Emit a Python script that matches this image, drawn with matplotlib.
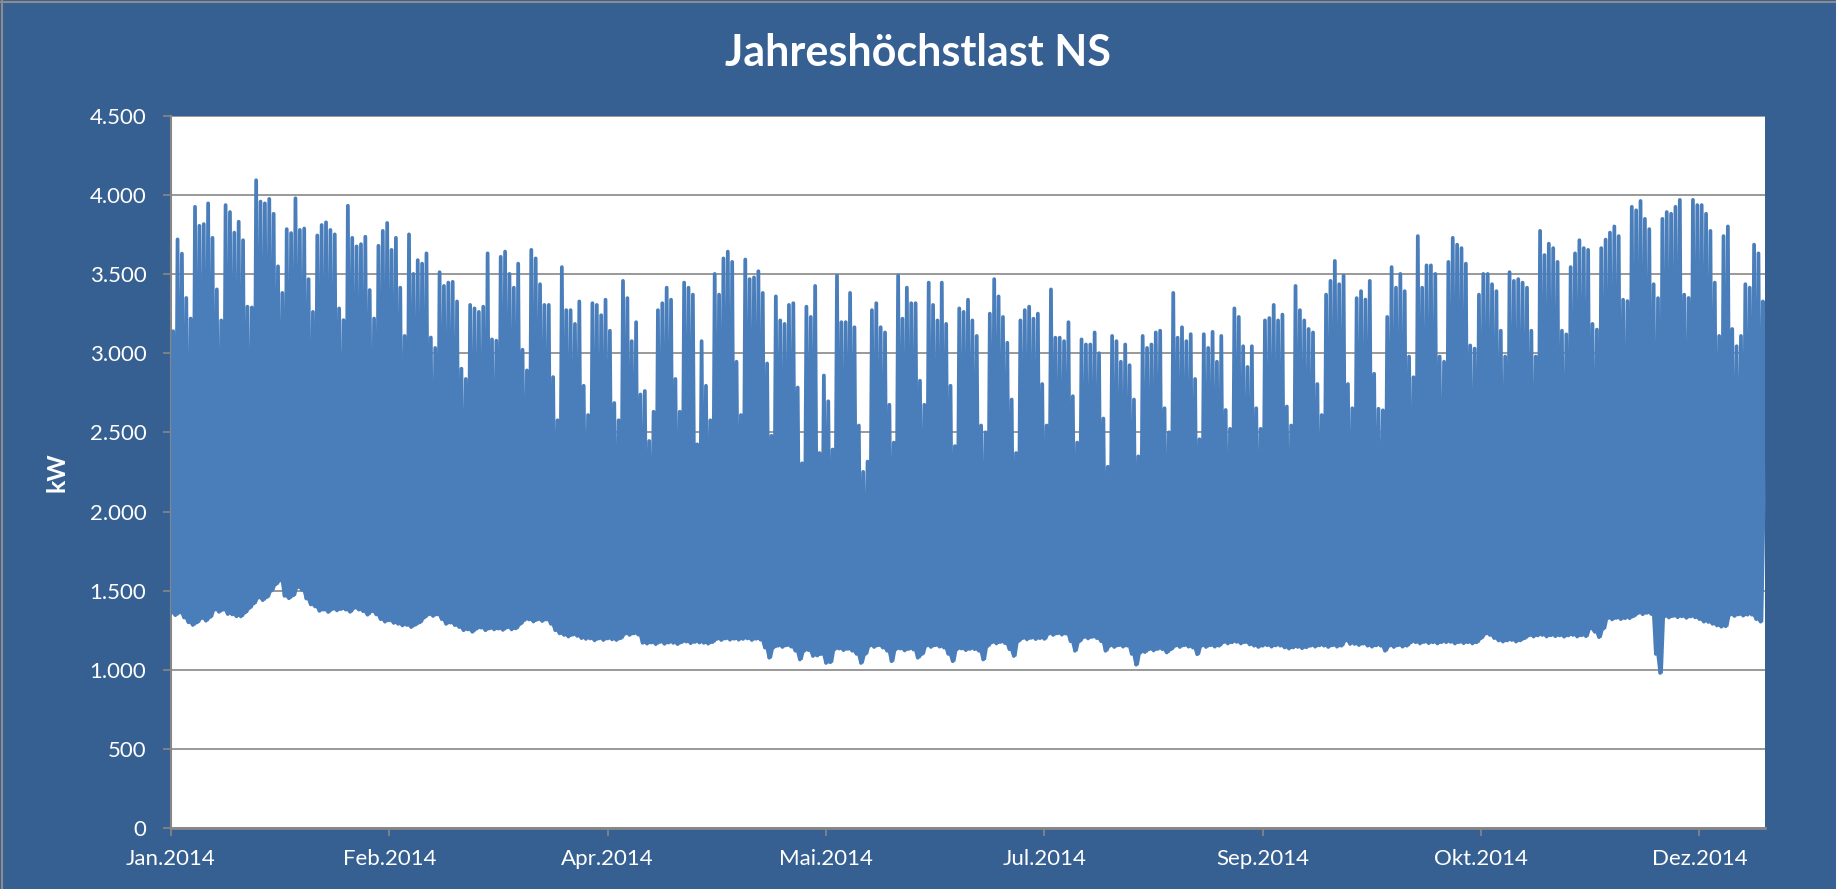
import numpy as np
import matplotlib
matplotlib.use("Agg")
import matplotlib.pyplot as plt
from matplotlib.lines import Line2D
from matplotlib.ticker import FuncFormatter, MultipleLocator

# ---------------- data (daily peak / night minimum in kW) -------------
# year 2014, day 0 = 1 Jan (Wednesday)
daily_max = [
    3140, 3720, 3630, 3350, 3220,
    3926, 3806, 3817, 3948, 3730, 3404, 3208,
    3937, 3893, 3763, 3832, 3715, 3295, 3290,
    4094, 3959, 3948, 3976, 3882, 3550, 3382,
    3785, 3760, 3980, 3780, 3789, 3469, 3262,
    3745, 3811, 3828, 3780, 3752, 3284, 3210,
    3933, 3730, 3676, 3690, 3737, 3400, 3220,
    3680, 3774, 3824, 3654, 3730, 3415, 3110,
    3752, 3502, 3589, 3567, 3632, 3100, 3034,
    3513, 3426, 3447, 3452, 3328, 2903, 2838,
    3306, 3284, 3262, 3295, 3632, 3088, 3080,
    3610, 3643, 3502, 3415, 3567, 3023, 2892,
    3654, 3600, 3437, 3306, 3306, 2850, 2577,
    3545, 3273, 3273, 3186, 3328, 2795, 2610,
    3317, 3306, 3241, 3339, 3143, 2686, 2577,
    3458, 3349, 3077, 3197, 2740, 2762, 2446,
    2631, 3273, 3317, 3415, 3339, 2838, 2631,
    3447, 3415, 3371, 2425, 3077, 2795, 2577,
    3502, 3371, 3600, 3643, 3578, 2947, 2610,
    3593, 3469, 3480, 3519, 3382, 2936, 2479,
    3360, 3208, 3186, 3306, 3317, 2784, 2305,
    3295, 3230, 3426, 2370, 2860, 2697, 2392,
    3491, 3197, 3197, 3382, 3165, 2544, 2251,
    2316, 3273, 3317, 3165, 3132, 2675, 2436,
    3491, 3219, 3415, 3317, 3317, 2827, 2675,
    3447, 3306, 3208, 3447, 3186, 2795, 2414,
    3284, 3262, 3339, 3208, 3110, 2544, 2501,
    3251, 3469, 3360, 3230, 3067, 2708, 2370,
    3208, 3273, 3295, 3219, 3251, 2806, 2544,
    3404, 3099, 3099, 3077, 3197, 2729, 2436,
    3088, 3056, 3056, 3132, 3001, 2588, 2283,
    3110, 3077, 2947, 3056, 2925, 2708, 2349,
    3110, 3034, 3056, 3132, 3143, 2653, 2501,
    3382, 3099, 3165, 3077, 3121, 2838, 2457,
    3121, 3034, 3136, 2947, 3110, 2642, 2523,
    3284, 3230, 3045, 2914, 3045, 2653, 2523,
    3208, 3223, 3306, 3208, 3245, 2664, 2544,
    3426, 3273, 3208, 3154, 3132, 2806, 2610,
    3371, 3458, 3584, 3437, 3491, 2806, 2653,
    3349, 3393, 3340, 3458, 2871, 2650, 2640,
    3230, 3545, 3415, 3502, 3393, 2980, 2849,
    3741, 3415, 3556, 3556, 3502, 2980, 2947,
    3578, 3730, 3687, 3665, 3567, 3050, 3030,
    3371, 3502, 3502, 3437, 3393, 3143, 2980,
    3513, 3458, 3469, 3447, 3415, 3143, 2980,
    3774, 3621, 3693, 3665, 3578, 3143, 3120,
    3545, 3632, 3715, 3665, 3654, 3186, 3150,
    3665, 3719, 3763, 3802, 3741, 3339, 3330,
    3926, 3904, 3963, 3850, 3785, 3437, 3349,
    3850, 3893, 3882, 3926, 3970, 3371, 3350,
    3970, 3937, 3937, 3882, 3774, 3447, 3110,
    3741, 3802, 3154, 3045, 3110, 3437, 3415,
    3687, 3632, 3328,
]

daily_min = [
    1360, 1345, 1362, 1330, 1300,
    1283, 1300, 1326, 1310, 1334, 1380, 1366,
    1380, 1352, 1350, 1338, 1337, 1362, 1391,
    1420, 1456, 1440, 1460, 1500, 1540, 1565,
    1467, 1452, 1470, 1522, 1505, 1450, 1413,
    1400, 1372, 1380, 1365, 1384, 1375, 1384,
    1380, 1366, 1391, 1380, 1370, 1348, 1370,
    1350, 1320, 1304, 1312, 1296, 1290, 1280,
    1283, 1270, 1285, 1300, 1330, 1350, 1340,
    1350, 1320, 1290, 1298, 1282, 1270, 1250,
    1255, 1240, 1260, 1266, 1250, 1262, 1255,
    1260, 1252, 1268, 1255, 1262, 1290, 1315,
    1318, 1305, 1318, 1308, 1318, 1290, 1250,
    1230, 1220, 1210, 1222, 1214, 1200, 1195,
    1198, 1186, 1198, 1188, 1198, 1192, 1188,
    1200, 1228, 1220, 1230, 1222, 1170, 1165,
    1172, 1162, 1176, 1164, 1172, 1170, 1162,
    1175, 1178, 1168, 1176, 1172, 1170, 1165,
    1175, 1195, 1188, 1198, 1190, 1196, 1190,
    1195, 1198, 1188, 1196, 1190, 1140, 1076,
    1141, 1152, 1144, 1155, 1146, 1120, 1065,
    1120, 1124, 1087, 1090, 1100, 1043, 1048,
    1130, 1134, 1124, 1132, 1120, 1100, 1043,
    1100, 1152, 1144, 1155, 1140, 1120, 1054,
    1130, 1134, 1122, 1132, 1128, 1076, 1100,
    1152, 1144, 1155, 1146, 1140, 1100, 1054,
    1130, 1134, 1124, 1132, 1130, 1120, 1065,
    1150, 1174, 1166, 1176, 1168, 1130, 1087,
    1180, 1200, 1192, 1202, 1194, 1200, 1195,
    1228, 1220, 1230, 1222, 1228, 1180, 1120,
    1180, 1206, 1198, 1208, 1200, 1180, 1120,
    1152, 1144, 1155, 1146, 1152, 1100, 1032,
    1109, 1112, 1130, 1122, 1132, 1130, 1109,
    1130, 1152, 1144, 1155, 1146, 1140, 1098,
    1152, 1144, 1155, 1146, 1152, 1174, 1166,
    1174, 1176, 1166, 1175, 1160, 1152, 1144,
    1152, 1155, 1146, 1154, 1152, 1141, 1134,
    1141, 1144, 1136, 1142, 1152, 1146, 1154,
    1152, 1144, 1155, 1146, 1152, 1185, 1163,
    1163, 1156, 1165, 1152, 1146, 1154, 1152,
    1120, 1152, 1144, 1155, 1146, 1152, 1174,
    1174, 1166, 1176, 1168, 1174, 1166, 1175,
    1174, 1176, 1166, 1175, 1168, 1174, 1166,
    1174, 1200, 1228, 1220, 1200, 1185, 1178,
    1185, 1188, 1178, 1186, 1200, 1217, 1210,
    1217, 1220, 1210, 1218, 1212, 1217, 1209,
    1217, 1220, 1210, 1218, 1212, 1261, 1240,
    1206, 1260, 1326, 1318, 1328, 1320, 1326,
    1326, 1340, 1359, 1351, 1360, 1352, 1100,
    980, 1337, 1330, 1340, 1332, 1338, 1328,
    1337, 1331, 1320, 1304, 1302, 1290, 1280,
    1272, 1275, 1348, 1340, 1350, 1342, 1348,
    1348, 1320, 1304,
]
year_end_value = 2066

tick_labels = ["Jan.2014", "Feb.2014", "Apr.2014", "Mai.2014",
               "Jul.2014", "Sep.2014", "Okt.2014", "Dez.2014"]
tick_step_days = 50

# ---------------- styling ----------------
BG = "#376092"
LINE = "#4A7EBB"
GRID = "#878787"
W, H = 1836, 889
FONT = ["Lato", "DejaVu Sans"]
plt.rcParams["font.family"] = FONT

fig = plt.figure(figsize=(W / 100, H / 100), dpi=100, facecolor=BG)
ax = fig.add_axes([171 / W, 1 - 828 / H, (1765 - 171) / W, (828 - 116) / H])
ax.set_facecolor("white")

n = len(daily_max)
mins = np.array(daily_min + [year_end_value], dtype=float)
maxs = np.array(daily_max, dtype=float)
x = np.empty(2 * n + 1)
y = np.empty(2 * n + 1)
x[0::2] = np.arange(n + 1)
x[1::2] = np.arange(n) + 0.5
y[0::2] = mins
y[1::2] = maxs
# body of the trace: area under each daily peak down to the night minima
lower = np.empty_like(y)
lower[0::2] = mins
lower[1::2] = np.minimum(mins[:-1], mins[1:])

ax.fill_between(x, lower, y, color=LINE, lw=0, zorder=3)
ax.plot(x, y, color=LINE, lw=2.7, solid_joinstyle="round",
        solid_capstyle="round", zorder=3)

ax.set_xlim(0, n)
ax.set_ylim(0, 4500)
ax.yaxis.set_major_locator(MultipleLocator(500))
ax.yaxis.set_major_formatter(FuncFormatter(lambda v, p: f"{v:,.0f}".replace(",", ".")))
ax.set_xticks(np.arange(len(tick_labels)) * tick_step_days)
ax.set_xticklabels(tick_labels)

ax.grid(axis="y", color=GRID, lw=1.2, zorder=1)
ax.set_axisbelow(True)
for s in ("top", "right"):
    ax.spines[s].set_visible(False)
ax.spines["left"].set_color(GRID)
ax.spines["left"].set_linewidth(1.5)
ax.spines["bottom"].set_color(GRID)
ax.spines["bottom"].set_linewidth(2.0)
ax.spines["bottom"].set_zorder(4)

ax.tick_params(axis="both", direction="out", length=5.8, width=1.2, color=GRID,
               labelcolor="white", labelsize=16)
ax.tick_params(axis="y", pad=12)
ax.tick_params(axis="x", pad=9)

ax.set_ylabel("kW", color="white", fontsize=18, fontweight="bold")
ax.yaxis.set_label_coords((69 - 171) / (1765 - 171), 0.5)

fig.text(0.5, 1 - 53 / H, "Jahreshöchstlast NS", ha="center", va="center",
         color="white", fontsize=31, fontweight="bold")

# chart-area border (top and left)
fig.add_artist(Line2D([0, 1], [1 - 1.5 / H, 1 - 1.5 / H], color="#8C8C8C", lw=1.5,
                      transform=fig.transFigure))
fig.add_artist(Line2D([1.5 / W, 1.5 / W], [0, 1], color="#8C8C8C", lw=1.5,
                      transform=fig.transFigure))

fig.savefig("out.png", dpi=100, facecolor=BG)
